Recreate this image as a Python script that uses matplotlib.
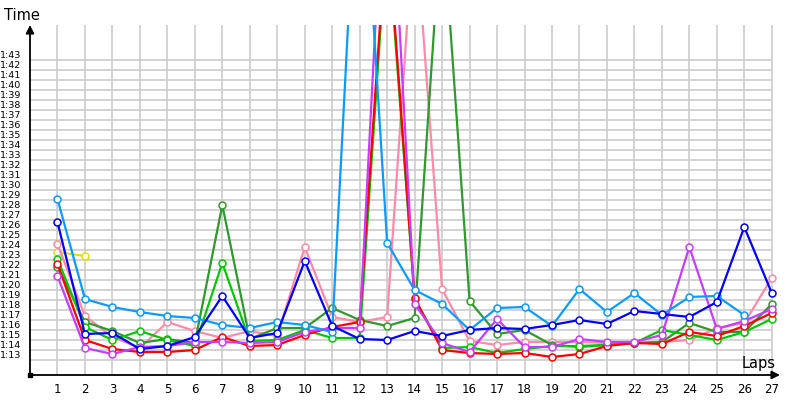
import matplotlib
matplotlib.use("Agg")
import matplotlib.pyplot as plt
import numpy as np

# lap times in seconds, one list per driver
laps = list(range(1, 28))
light_blue = [89.1, 79.1, 78.3, 77.8, 77.4, 77.2, 76.5, 76.2, 76.8, 76.5, 75.8, 129.0, 84.7,
              80.0, 78.6, 76.0, 78.2, 78.3, 76.4, 80.1, 77.8, 79.7, 77.5, 79.3, 79.4, 77.5]
blue = [86.8, 75.6, 75.7, 74.1, 74.4, 75.3, 79.4, 75.2, 75.7, 82.9, 76.4, 75.1, 75.0, 75.9,
        75.4, 76.0, 76.2, 76.1, 76.5, 77.0, 76.6, 77.9, 77.6, 77.3, 78.8, 86.3, 79.7]
pink = [84.6, 77.4, 75.3, 74.2, 76.8, 75.9, 75.2, 75.9, 75.4, 84.3, 77.3, 76.8, 77.3, 117.5,
        80.1, 74.9, 74.5, 74.8, 74.8, 74.8, 74.7, 74.7, 74.8, 75.0, 76.2, 76.7, 81.2]
yellow = [83.8, 83.4]
green = [83.1, 76.3, 75.0, 75.9, 75.0, 74.4, 82.7, 74.9, 75.0, 76.0, 75.2, 75.2, 116.0, 79.1,
         74.2, 74.3, 73.7, 74.1, 74.4, 74.4, 74.5, 74.7, 76.0, 75.5, 75.0, 75.8, 77.1]
dark_green = [82.3, 76.8, 75.9, 74.7, 75.1, 74.7, 88.5, 75.1, 76.2, 76.2, 78.2, 77.0, 76.4,
              77.2, 118.0, 78.9, 75.6, 76.0, 74.5, 74.3, 74.5, 74.7, 74.8, 76.7, 75.8, 75.8, 78.6]
red = [82.6, 75.0, 74.1, 73.8, 73.8, 74.0, 75.3, 74.4, 74.5, 75.5, 76.3, 76.8, 117.0, 79.2,
       74.0, 73.7, 73.6, 73.7, 73.3, 73.6, 74.4, 74.7, 74.6, 75.8, 75.4, 76.4, 77.7]
purple = [81.4, 74.2, 73.6, 74.3, 74.4, 74.8, 74.8, 74.7, 74.8, 75.8, 76.2, 76.2, 129.0, 78.6,
          74.7, 73.8, 77.1, 74.3, 74.3, 75.1, 74.8, 74.8, 75.5, 84.3, 76.1, 76.9, 78.1]

tick_seconds = list(range(73, 104))

series = [
    (yellow, "#e0e000"),
    (pink, "#ff8aa8"),
    (dark_green, "#2e9a2e"),
    (green, "#00c800"),
    (red, "#ff0000"),
    (purple, "#c83cff"),
    (light_blue, "#0a9bff"),
    (blue, "#0000ff"),
]

fig = plt.figure(figsize=(8, 4), dpi=100)
ax = fig.add_axes([30 / 800, 25 / 400, 750 / 800, 350 / 400])
ax.set_xlim(0, 27.3)
ax.set_ylim(71.5, 106.5)

# grid
ax.hlines(tick_seconds, 0, laps[-1], color="#cccccc", lw=1.2, zorder=0)
ax.vlines(laps, 71.5, 106.5, color="#cccccc", lw=1.2, zorder=0)

for values, color in series:
    ax.plot(laps[:len(values)], values, color=color, lw=1.6, marker="o", ms=5,
            mfc="white", mec=color, mew=1.1, clip_on=True)

for s in ax.spines.values():
    s.set_visible(False)

ax.set_xticks(laps)
ax.set_xticklabels([str(l) for l in laps], fontsize=8.5)
ax.set_yticks([t + 0.5 for t in tick_seconds])
ax.set_yticklabels([f"{t // 60}:{t % 60:02d}" for t in tick_seconds], fontsize=6.8)
ax.tick_params(length=0)
ax.tick_params(axis="x", pad=6)
ax.tick_params(axis="y", pad=6)

# axis arrows
arrow = dict(arrowstyle="-|>", color="black", lw=1.3, mutation_scale=12, shrinkA=0, shrinkB=0)
ax.annotate("", xy=(0, 1), xytext=(0, 0), xycoords="axes fraction", arrowprops=arrow)
ax.annotate("", xy=(1, 0), xytext=(0, 0), xycoords="axes fraction", arrowprops=arrow)
ax.plot(0, 71.5, "s", color="black", ms=3.5, clip_on=False, zorder=5)

fig.text(4 / 800, 1 - 15 / 400, "Time", fontsize=10.5, va="center", ha="left")
fig.text(776 / 800, 1 - 371 / 400, "Laps", fontsize=10.5, va="bottom", ha="right")

fig.savefig("out.png", dpi=100)
